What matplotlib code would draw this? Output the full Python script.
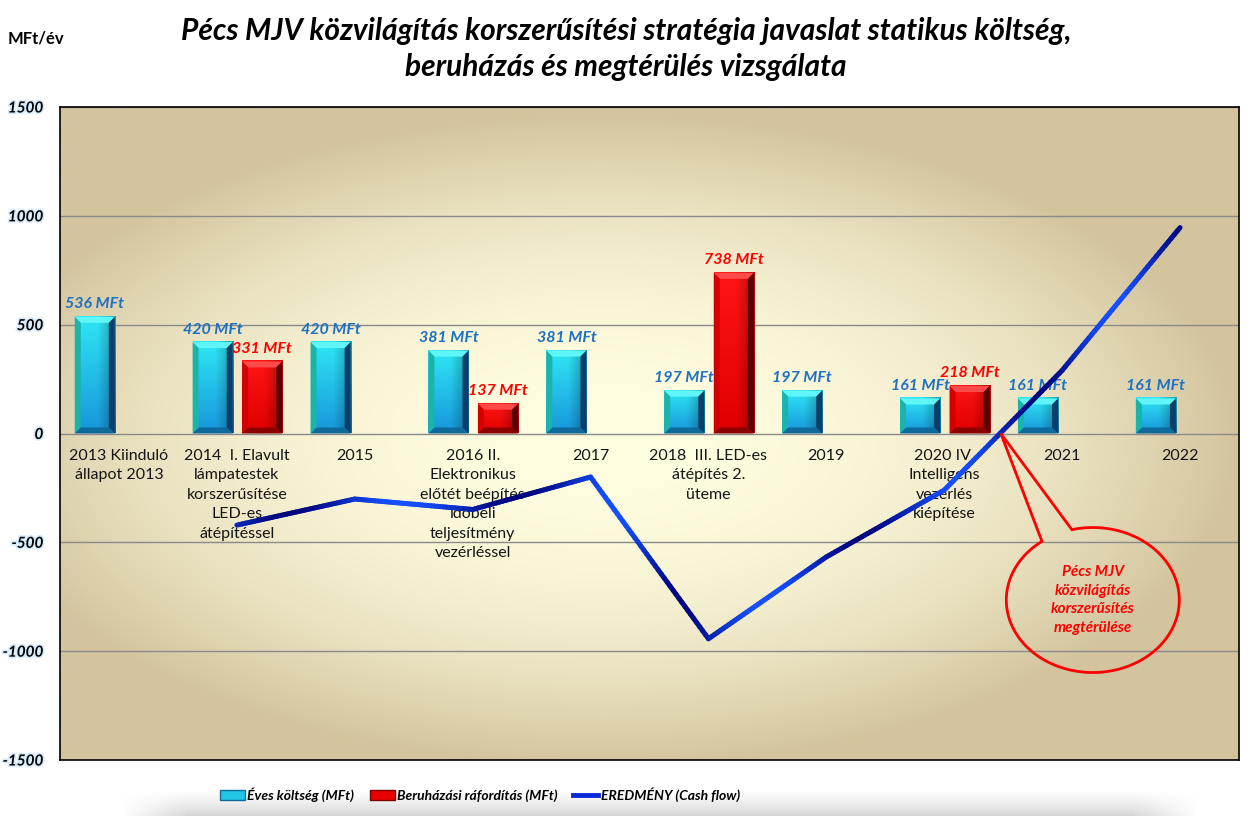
import numpy as np
import matplotlib
matplotlib.use("Agg")
import matplotlib.pyplot as plt
from matplotlib.collections import LineCollection
from matplotlib.patches import Polygon, Patch
from matplotlib.lines import Line2D
from matplotlib.colors import to_rgb
import matplotlib.patheffects as pe

plt.rcParams['font.family'] = ['Lato', 'DejaVu Sans']

# ---- data ----
categories = [
    "2013 Kiinduló\nállapot 2013",
    "2014  I. Elavult\nlámpatestek\nkorszerűsítése\nLED-es\nátépítéssel",
    "2015",
    "2016 II.\nElektronikus\nelőtét beépítés\nidőbeli\nteljesítmény\nvezérléssel",
    "2017",
    "2018  III. LED-es\nátépítés 2.\nüteme",
    "2019",
    "2020 IV.\nIntelligens\nvezérlés\nkiépítése",
    "2021",
    "2022",
]
annual_cost = [536, 420, 420, 381, 381, 197, 197, 161, 161, 161]
investment = [np.nan, 331, np.nan, 137, np.nan, 738, np.nan, 218, np.nan, np.nan]
cash_flow_idx = [1, 2, 3, 4, 5, 6, 7, 8, 9]
cash_flow = [-421, -301, -349, -200, -943, -567, -260, 290, 946]
y_ticks = [-1500, -1000, -500, 0, 500, 1000, 1500]

title_l1 = "Pécs MJV közvilágítás korszerűsítési stratégia javaslat statikus költség,"
title_l2 = "beruházás és megtérülés vizsgálata"
callout_text = "Pécs MJV\nközvilágítás\nkorszerűsítés\nmegtérülése"

W, H = 1250, 816
fig = plt.figure(figsize=(W / 100, H / 100), dpi=100)
fig.patch.set_facecolor("white")

# soft grey shadow under the legend
sh = fig.add_axes([120 / W, 0, 1080 / W, 26 / H], zorder=-5)
gy = np.linspace(0, 1, 40)[:, None]
gx = np.linspace(0, 1, 200)[None, :]
shade_img = np.ones((40, 200, 4))
shade_img[..., :3] = 0.84
shade_img[..., 3] = np.clip(gy ** 1.2, 0, 1) * np.clip(np.minimum(gx, 1 - gx) / 0.06, 0, 1)
sh.imshow(shade_img, aspect="auto", extent=(0, 1, 0, 1))
sh.axis("off")

ax = fig.add_axes([60 / W, (H - 760) / H, (1239 - 60) / W, (760 - 107) / H])
ax.set_xlim(0, 10)
ax.set_ylim(-1500, 1500)

# radial background
ny, nx = 220, 330
yy, xx = np.mgrid[0:1:ny * 1j, 0:1:nx * 1j]
ddx = (xx - 0.46) / 0.54
ddy = (yy - 0.51) / 0.5
t = np.clip(np.hypot(ddx, ddy), 0, 1) ** 2.2
c_in = np.array(to_rgb("#fffde0"))
c_out = np.array(to_rgb("#d3c49e"))
bg = c_in + (c_out - c_in) * t[..., None]
ax.imshow(bg, extent=(0, 10, -1500, 1500), aspect="auto", zorder=0, interpolation="bilinear")

ax.set_axisbelow(True)
ax.yaxis.grid(True, color="#8a8a8a", lw=1)
ax.set_yticks(y_ticks)
ax.set_yticklabels([str(v) for v in y_ticks], fontsize=11, fontweight="bold", style="italic")
for lab in ax.get_yticklabels():
    lab.set_path_effects([pe.withStroke(linewidth=2.5, foreground="#d6ecfa")])
ax.tick_params(axis="y", length=0, pad=12)
ax.set_xticks([])
for s in ax.spines.values():
    s.set_color("black")
    s.set_linewidth(1.2)

# ---- bevelled bars ----
px_x = 1179 / 10.0
px_y = 653 / 3000.0
bdx = 6 / px_x
bdy = 6 / px_y

cyan_style = dict(face_top="#2ee6f4", face_bot="#1896dc", top="#60f6f8",
                  left="#1ab4aa", right="#0b3f6a", bottom="#0f6a9c")
red_style = dict(face_top="#ff1414", face_bot="#e00000", top="#ff4a4a",
                 left="#d40000", right="#5c0000", bottom="#8c0000")


def bevel_bar(x0, w, h, st):
    n = 32
    v = np.linspace(1, 0, n)[:, None]
    u = np.linspace(0, 1, n)[None, :]
    ft, fb = np.array(to_rgb(st["face_top"])), np.array(to_rgb(st["face_bot"]))
    col = fb + (ft - fb) * v[..., None]
    dark = 1 - 0.3 * np.clip((u - 0.55) / 0.45, 0, 1)
    img = np.clip(col * dark[..., None], 0, 1)
    ax.imshow(img, extent=(x0, x0 + w, 0, h), aspect="auto", zorder=3, interpolation="bilinear")
    dy = min(bdy, h / 3)
    polys = {
        "top": [(x0, h), (x0 + w, h), (x0 + w - bdx, h - dy), (x0 + bdx, h - dy)],
        "left": [(x0, 0), (x0, h), (x0 + bdx, h - dy), (x0 + bdx, dy)],
        "right": [(x0 + w, 0), (x0 + w, h), (x0 + w - bdx, h - dy), (x0 + w - bdx, dy)],
        "bottom": [(x0, 0), (x0 + w, 0), (x0 + w - bdx, dy), (x0 + bdx, dy)],
    }
    for k, pts in polys.items():
        ax.add_patch(Polygon(pts, closed=True, facecolor=st[k], edgecolor="none", zorder=3.1))


bar_w = 0.34
for i, v in enumerate(annual_cost):
    xc = i + 0.5 - 0.205
    bevel_bar(xc - bar_w / 2, bar_w, v, cyan_style)
    ax.annotate(f"{v} MFt", (xc, v), xytext=(0, 4), textcoords="offset points",
                ha="center", va="bottom", fontsize=11.5, fontweight="bold", style="italic",
                color="#1e70c2", zorder=5)
for i, v in enumerate(investment):
    if np.isnan(v):
        continue
    xc = i + 0.5 + 0.215
    bevel_bar(xc - bar_w / 2, bar_w, v, red_style)
    ax.annotate(f"{int(v)} MFt", (xc, v), xytext=(0, 4), textcoords="offset points",
                ha="center", va="bottom", fontsize=11.5, fontweight="bold", style="italic",
                color="#ff0000", zorder=5)

# category labels under the zero line
for i, lab in enumerate(categories):
    ax.annotate(lab, (i + 0.5, 0), xytext=(0, -11), textcoords="offset points",
                ha="center", va="top", fontsize=11.5, color="#151515",
                linespacing=1.5, zorder=5)

# ---- cash flow line with shaded blue gradient ----
xs = np.array(cash_flow_idx, dtype=float) + 0.5
ys = np.array(cash_flow, dtype=float)
pts = []
for k in range(len(xs) - 1):
    for f in np.linspace(0, 1, 40, endpoint=False):
        pts.append((xs[k] + (xs[k + 1] - xs[k]) * f, ys[k] + (ys[k + 1] - ys[k]) * f))
pts.append((xs[-1], ys[-1]))
pts = np.array(pts)
pix = np.column_stack([pts[:, 0] * px_x, pts[:, 1] * px_y])
seglen = np.hypot(np.diff(pix[:, 0]), np.diff(pix[:, 1]))
s = np.concatenate([[0], np.cumsum(seglen)])[:-1]
wave = 0.5 + 0.5 * np.cos(2 * np.pi * (s + 60) / 230)
bright = np.array(to_rgb("#1550ff"))
dark = np.array(to_rgb("#00067e"))
cols = dark + (bright - dark) * wave[:, None]
segs = np.stack([pts[:-1], pts[1:]], axis=1)
lc = LineCollection(segs, colors=cols, linewidths=3.6, capstyle="round", zorder=6)
ax.add_collection(lc)

# ---- callout marking the payback point ----
tip_x = 7.98
cx, cy = 8.76, -765.0
a, b = 86.5 / px_x, 72.5 / px_y
tt = np.deg2rad(np.linspace(126, 464, 200))
ell = np.column_stack([cx + a * np.cos(tt), cy + b * np.sin(tt)])
callout = np.vstack([ell, [[tip_x, 0.0]]])
ax.add_patch(Polygon(callout, closed=True, fill=False, edgecolor="#ff0000", lw=2, zorder=6))
ax.text(cx, cy, callout_text, ha="center", va="center", fontsize=11, fontweight="bold",
        style="italic", color="#ff0000", linespacing=1.4, zorder=7)

# ---- titles ----
fig.text(626 / W, 1 - 31 / H, title_l1, ha="center", va="center", fontsize=21.5,
         fontweight="bold", style="italic", color="black")
fig.text(626 / W, 1 - 67 / H, title_l2, ha="center", va="center", fontsize=21.5,
         fontweight="bold", style="italic", color="black")
fig.text(8 / W, 1 - 38 / H, "MFt/év", ha="left", va="center", fontsize=12,
         fontweight="bold", color="black")

# ---- legend ----
handles = [
    Patch(facecolor="#22c6e4", edgecolor="#106a9c", label="Éves költség (MFt)"),
    Patch(facecolor="#e80000", edgecolor="#7a0000", label="Beruházási ráfordítás (MFt)"),
    Line2D([0], [0], color="#0a2ad8", lw=3.5, label="EREDMÉNY (Cash flow)"),
]
fig.legend(handles=handles, loc="center", bbox_to_anchor=(480 / W, 1 - 795 / H), ncol=3,
           frameon=False, handlelength=1.8, handleheight=0.7, handletextpad=0.2,
           columnspacing=1.1, prop=dict(size=10, weight="bold", style="italic"))

fig.savefig("out.png", dpi=100)
